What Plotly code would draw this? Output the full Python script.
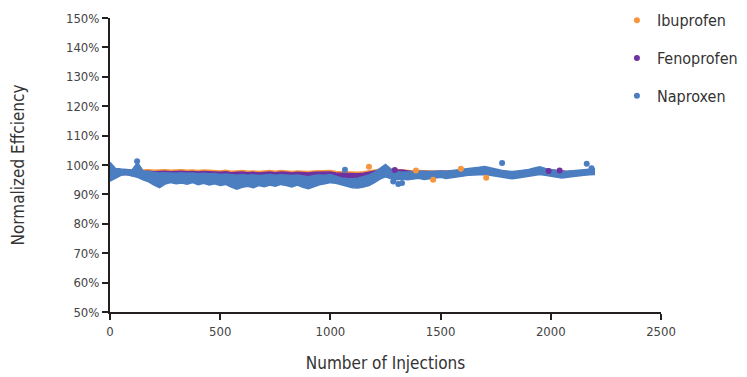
import plotly.graph_objects as go

# ---------------- data ----------------
injections = list(range(0, 2201, 25))

naproxen_high = [100.9, 98.8, 98.6, 98.5, 98.3, 100.8, 98.0, 97.8, 97.5, 97.3,
                 97.4, 97.3, 97.2, 97.4, 97.2, 97.3, 97.0, 97.2, 97.0, 97.1,
                 96.8, 96.9, 96.6, 96.5, 96.8, 96.5, 96.7, 96.4, 96.6, 96.8,
                 96.5, 96.7, 96.6, 96.4, 96.6, 96.3, 96.0, 96.4, 96.6, 96.5,
                 96.8, 96.2, 95.6, 95.4, 95.3, 95.5, 96.0, 96.6, 97.5, 98.8,
                 100.2, 98.6, 97.8, 97.5, 97.6, 97.7, 97.8, 97.9, 97.7, 97.9,
                 98.0, 97.9, 98.1, 98.2, 98.4, 98.6, 98.8, 99.2, 99.5, 99.0,
                 98.6, 98.2, 97.9, 97.8, 98.0, 98.2, 98.5, 99.0, 99.4, 98.8,
                 98.4, 98.0, 97.8, 97.9, 98.1, 98.3, 98.4, 98.6, 98.7]
naproxen_low = [94.5, 95.5, 96.5, 96.8, 96.3, 95.8, 95.0, 94.3, 93.2, 92.3,
                93.5, 94.0, 93.6, 93.9, 93.5, 94.0, 93.3, 93.8, 93.2, 93.6,
                93.0, 93.4, 92.5, 91.8, 92.4, 92.8, 92.3, 93.0, 92.6, 93.2,
                92.8, 93.4, 93.0, 92.5, 93.2, 92.4, 91.9, 92.6, 93.3, 93.6,
                94.0, 93.8, 93.2, 92.8, 92.3, 92.2, 92.5, 93.0, 94.0, 95.2,
                96.0, 95.3, 95.0, 95.2, 95.0, 95.3, 95.5, 95.1, 95.4, 95.6,
                95.8, 95.4, 95.7, 95.9, 96.2, 96.5, 96.6, 96.8, 96.8, 96.5,
                96.2, 96.0, 95.6, 95.3, 95.6, 95.9, 96.2, 96.6, 96.8, 96.5,
                96.2, 95.9, 95.6, 95.8, 96.1, 96.3, 96.5, 96.7, 96.8]

fenoprofen_high = [98.3, 98.0, 97.9, 97.8, 97.9, 97.9, 97.8, 97.9, 97.7, 97.8,
                   97.9, 97.7, 97.8, 97.9, 97.7, 97.8, 97.6, 97.8, 97.7, 97.6,
                   97.5, 97.7, 97.4, 97.5, 97.6, 97.4, 97.5, 97.3, 97.5, 97.6,
                   97.4, 97.6, 97.5, 97.3, 97.5, 97.4, 97.3, 97.5, 97.6, 97.7,
                   97.6, 97.3, 97.2, 97.0, 96.9, 97.0, 97.2, 97.5, 97.8, 98.3,
                   98.6, 98.4, 98.2, 98.3, 97.9, 97.7, 97.8, 97.8, 97.6, 97.8,
                   97.9, 97.8, 98.0, 98.0, 98.1, 98.2, 98.3, 98.4, 98.5, 98.3,
                   98.1, 97.9, 97.7, 97.6, 97.8, 97.9, 98.0, 98.1, 98.3, 98.2,
                   98.3, 98.1, 97.9, 97.8, 97.9, 98.0, 98.1, 98.2, 98.3]
fenoprofen_low = [96.0, 96.5, 96.8, 96.8, 96.5, 96.0, 95.5, 95.2, 95.0, 95.0,
                  95.2, 95.3, 95.2, 95.3, 95.2, 95.3, 95.0, 95.2, 95.0, 95.1,
                  94.8, 95.0, 94.8, 94.7, 94.8, 94.7, 94.8, 94.7, 94.8, 94.9,
                  94.8, 94.9, 94.8, 94.7, 94.8, 94.7, 94.6, 94.8, 94.9, 95.0,
                  95.0, 94.8, 94.6, 94.5, 94.4, 94.5, 94.7, 95.0, 95.5, 96.0,
                  96.5, 96.2, 96.0, 96.0, 96.0, 96.0, 96.0, 96.0, 96.0, 96.1,
                  96.2, 96.1, 96.2, 96.3, 96.5, 96.7, 96.8, 97.0, 97.0, 96.8,
                  96.6, 96.4, 96.2, 96.0, 96.2, 96.4, 96.6, 96.8, 97.0, 96.8,
                  96.6, 96.4, 96.2, 96.3, 96.5, 96.7, 96.8, 96.9, 97.0]

ibuprofen_high = [98.6, 98.4, 98.3, 98.3, 98.4, 98.4, 98.3, 98.4, 98.2, 98.3,
                  98.4, 98.2, 98.3, 98.4, 98.2, 98.3, 98.1, 98.3, 98.2, 98.1,
                  98.0, 98.2, 97.9, 98.0, 98.1, 97.9, 98.0, 97.8, 98.0, 98.1,
                  97.9, 98.1, 98.0, 97.8, 98.0, 97.9, 97.8, 98.0, 98.1, 98.2,
                  98.1, 97.8, 97.7, 97.5, 97.4, 97.5, 97.7, 98.0, 98.3, 98.6,
                  98.8, 98.6, 98.4, 98.4, 98.2, 98.0, 98.1, 98.0, 97.8, 97.9,
                  98.0, 97.9, 98.0, 98.0, 98.1, 98.2, 98.3, 98.4, 98.5, 98.3,
                  98.1, 97.9, 97.7, 97.6, 97.8, 97.9, 98.0, 98.1, 98.3, 98.2,
                  98.2, 98.0, 97.8, 97.7, 97.8, 97.9, 98.0, 98.1, 98.2]
ibuprofen_low = [97.0, 97.2, 97.2, 97.2, 97.2, 97.1, 97.0, 97.0, 96.9, 96.9,
                 97.0, 96.9, 96.9, 97.0, 96.9, 96.9, 96.8, 96.9, 96.8, 96.8,
                 96.7, 96.8, 96.6, 96.6, 96.7, 96.6, 96.6, 96.5, 96.6, 96.7,
                 96.6, 96.7, 96.6, 96.5, 96.6, 96.5, 96.4, 96.6, 96.7, 96.8,
                 96.7, 96.4, 96.2, 96.0, 95.9, 96.0, 96.2, 96.5, 96.8, 97.0,
                 97.2, 97.0, 96.9, 96.9, 96.8, 96.7, 96.8, 96.7, 96.6, 96.7,
                 96.8, 96.7, 96.8, 96.8, 96.9, 97.0, 97.1, 97.2, 97.2, 97.1,
                 96.9, 96.8, 96.6, 96.5, 96.6, 96.7, 96.8, 96.9, 97.0, 96.9,
                 96.9, 96.8, 96.6, 96.6, 96.7, 96.8, 96.9, 96.9, 97.0]

# scattered individual points that stand out of the bands
ibuprofen_pts_x = [1175, 1466, 1592, 1707, 1388]
ibuprofen_pts_y = [99.4, 95.0, 98.7, 95.7, 98.1]
fenoprofen_pts_x = [1292, 1990, 2040]
fenoprofen_pts_y = [98.3, 98.0, 98.1]
naproxen_pts_x = [123, 1066, 1285, 1308, 1325, 1779, 2163, 2185]
naproxen_pts_y = [101.3, 98.4, 94.4, 93.5, 93.9, 100.7, 100.4, 98.9]

series_names = ["Ibuprofen", "Fenoprofen", "Naproxen"]
colors = ["#F7963C", "#70309F", "#4A7EC0"]

x_ticks = [0, 500, 1000, 1500, 2000, 2500]
y_ticks = [50, 60, 70, 80, 90, 100, 110, 120, 130, 140, 150]

FONT = "DejaVu Sans Condensed, Liberation Sans Narrow, Roboto, sans-serif"

fig = go.Figure()

bands = [(ibuprofen_low, ibuprofen_high), (fenoprofen_low, fenoprofen_high),
         (naproxen_low, naproxen_high)]
for name, col, (lo, hi) in zip(series_names, colors, bands):
    fig.add_trace(go.Scatter(x=injections, y=lo, mode="lines",
                             line=dict(color=col, width=1.5),
                             showlegend=False, legendgroup=name, hoverinfo="skip"))
    fig.add_trace(go.Scatter(x=injections, y=hi, mode="lines", fill="tonexty",
                             fillcolor=col, line=dict(color=col, width=1.5),
                             showlegend=False, legendgroup=name, hoverinfo="skip"))

pts = [(ibuprofen_pts_x, ibuprofen_pts_y), (fenoprofen_pts_x, fenoprofen_pts_y),
       (naproxen_pts_x, naproxen_pts_y)]
for name, col, (px, py) in zip(series_names, colors, pts):
    fig.add_trace(go.Scatter(x=px, y=py, mode="markers", name=name,
                             legendgroup=name,
                             marker=dict(color=col, size=6, line=dict(width=0))))

# the page body has an 8px margin, so the figure is 8px smaller than the window
fig.update_layout(
    width=739, height=369,
    margin=dict(l=102, r=86, t=10, b=65, autoexpand=False),
    paper_bgcolor="white", plot_bgcolor="white",
    font=dict(family=FONT, color="#333333", size=13),
    showlegend=True,
    legend=dict(x=0.92, xanchor="left", y=1.05, yanchor="top",
                font=dict(size=16, color="#333333", family=FONT),
                tracegroupgap=14, bgcolor="rgba(0,0,0,0)",
                itemclick=False),
    xaxis=dict(range=[0, 2500], tickvals=x_ticks, ticktext=[str(v) for v in x_ticks],
               showline=True, linecolor="#231F20", linewidth=2,
               ticks="outside", ticklen=6, tickwidth=2, tickcolor="#231F20",
               showgrid=False, zeroline=False,
               tickfont=dict(size=13, color="#444444"),
               title=dict(text="Number of Injections", standoff=20,
                          font=dict(size=17, color="#333333"))),
    yaxis=dict(range=[50, 150], tickvals=y_ticks, ticktext=[f"{v}%" for v in y_ticks],
               showline=True, linecolor="#231F20", linewidth=2,
               ticks="outside", ticklen=6, tickwidth=2, tickcolor="#231F20",
               showgrid=False, zeroline=False,
               tickfont=dict(size=13, color="#444444"),
               title=dict(text="Normalized Effciency", standoff=39,
                          font=dict(size=17, color="#333333"))),
)

fig.write_html("out.html")
